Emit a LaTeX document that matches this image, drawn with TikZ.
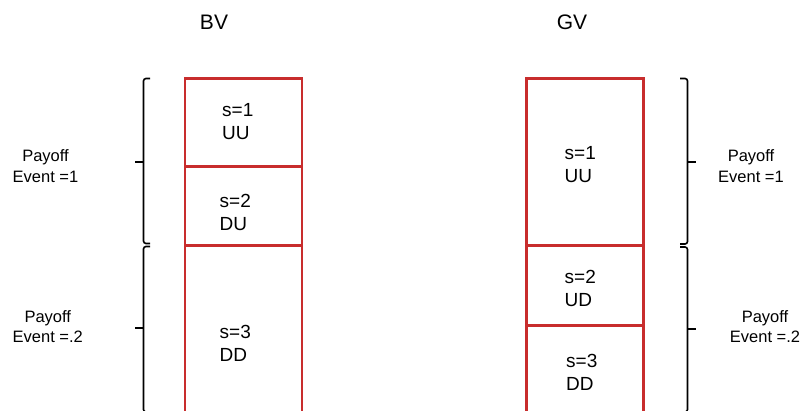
\documentclass[tikz,border=0pt]{standalone}
\usepackage{fontspec}
\setmainfont{Liberation Sans}
\definecolor{cellred}{RGB}{200,45,45}
\tikzset{
  cell/.style={draw=cellred, line width=2.5pt},
  brace/.style={draw=black, line width=1.6pt, rounded corners=2.5pt},
  tick/.style={draw=black, line width=2pt},
  celltext/.style={anchor=base west, inner sep=0pt, align=left, font=\fontsize{19}{22.8}\selectfont},
  paytext/.style={anchor=base, inner sep=0pt, align=center, font=\fontsize{16.5}{20.3}\selectfont},
  title/.style={anchor=base, inner sep=0pt, font=\fontsize{21}{25}\selectfont}
}
\begin{document}
\begin{tikzpicture}[x=1pt,y=-1pt]
\useasboundingbox (0,0) rectangle (801,410);
\clip (0,0) rectangle (801,410);
% titles
\node[title] (bv) at (214,29) {BV};
\node[title] (gv) at (572,29) {GV};
% BV column
\draw[cell] (185,78.5) rectangle (302,430);
\draw[cell] (185,166.5) -- (302,166.5);
\draw[cell] (185,245.5) -- (302,245.5);
\node[celltext] (b1) at (222,139.3) {s=1\\UU};
\node[celltext] (b2) at (219.5,230) {s=2\\DU};
\node[celltext] (b3) at (219.5,361.7) {s=3\\DD};
% GV column
\draw[cell] (526.5,78.5) rectangle (643.5,430);
\draw[cell] (526.5,245.5) -- (643.5,245.5);
\draw[cell] (526.5,325.5) -- (643.5,325.5);
\node[celltext] (g1) at (564.5,182.3) {s=1\\UU};
\node[celltext] (g2) at (564.5,306) {s=2\\UD};
\node[celltext] (g3) at (566,390) {s=3\\DD};
% BV braces
\draw[brace] (150,78.5) -- (143.5,78.5) -- (143.5,243.5) -- (150,243.5);
\draw[tick] (143.5,162) -- (135,162);
\draw[brace] (150,246.5) -- (143.5,246.5) -- (143.5,412) -- (150,412);
\draw[tick] (143.5,328) -- (135,328);
% GV braces
\draw[brace] (680,78.5) -- (687.5,78.5) -- (687.5,244) -- (680,244);
\draw[tick] (687.5,162) -- (695.5,162);
\draw[brace] (680,247) -- (687.5,247) -- (687.5,412) -- (680,412);
\draw[tick] (687.5,329) -- (695.5,329);
% payoff labels
\node[paytext] (p1) at (45.5,182) {Payoff\\Event =1};
\node[paytext] (p2) at (47.8,342.7) {Payoff\\Event =.2};
\node[paytext] (p3) at (751,182) {Payoff\\Event =1};
\node[paytext] (p4) at (765,342.7) {Payoff\\Event =.2};
\end{tikzpicture}
\end{document}
